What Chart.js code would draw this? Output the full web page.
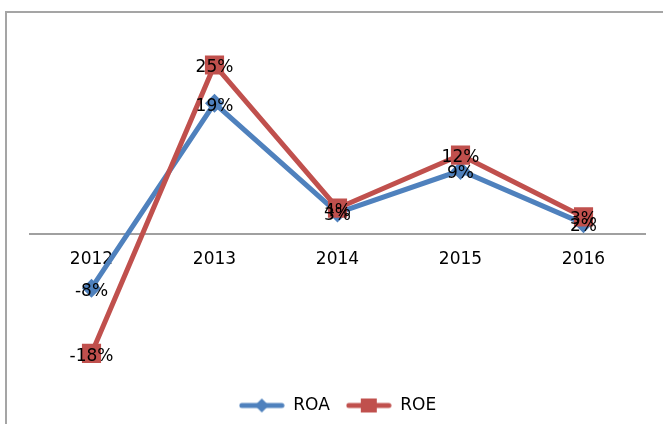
<!DOCTYPE html>
<html lang="en">
<head>
<meta charset="UTF-8" />
<title>ROA / ROE</title>
<script src="https://cdn.jsdelivr.net/npm/chart.js"></script>
<style>
  html, body { margin: 0; padding: 0; background: #fff; }
  .frame { position: relative; width: 663px; height: 424px; overflow: hidden; }
  .border { position: absolute; left: 5px; top: 11px; width: 700px; height: 500px; border: 2px solid #a5a5a5; }
  canvas { position: absolute; left: 0; top: 0; }
</style>
</head>
<body>
<div class="frame">
  <div class="border"></div>
  <canvas id="ratioChart" width="663" height="424"></canvas>
</div>
<script>
  const years = ['2012', '2013', '2014', '2015', '2016'];
  const roa = [-8.1, 19.4, 3.1, 9.4, 1.5];
  const roe = [-17.8, 25.1, 3.8, 11.7, 2.5];

  const BLUE = '#4f81bd';
  const RED = '#c0504d';
  const FONT = '"DejaVu Sans", sans-serif';

  // legend swatch: line with the marker on it, like Excel
  function legendIcon(color, shape) {
    const c = document.createElement('canvas');
    c.width = 46; c.height = 16;
    const g = c.getContext('2d');
    g.strokeStyle = color;
    g.lineWidth = 5;
    g.lineCap = 'round';
    g.beginPath(); g.moveTo(3, 8); g.lineTo(43, 8); g.stroke();
    g.fillStyle = color;
    if (shape === 'diamond') {
      g.beginPath(); g.moveTo(23, 1); g.lineTo(30, 8); g.lineTo(23, 15); g.lineTo(16, 8); g.closePath(); g.fill();
    } else {
      g.fillRect(15, 1, 16, 14);
    }
    return c;
  }
  const icons = [legendIcon(BLUE, 'diamond'), legendIcon(RED, 'square')];

  // percentage labels centred on each point
  const pointLabels = {
    id: 'pointLabels',
    afterDatasetsDraw(chart) {
      const ctx = chart.ctx;
      ctx.save();
      ctx.font = '17px ' + FONT;
      ctx.fillStyle = '#000';
      ctx.textAlign = 'center';
      ctx.textBaseline = 'middle';
      chart.data.datasets.forEach((ds, i) => {
        chart.getDatasetMeta(i).data.forEach((pt, j) => {
          ctx.fillText(Math.round(ds.data[j]) + '%', pt.x, pt.y + 3);
        });
      });
      ctx.restore();
    }
  };

  new Chart(document.getElementById('ratioChart'), {
    type: 'line',
    data: {
      labels: years,
      datasets: [{
        label: 'ROA',
        data: roa,
        borderColor: BLUE,
        backgroundColor: BLUE,
        borderWidth: 5,
        pointStyle: 'rectRot',
        pointRadius: 6,
        tension: 0,
        order: 1
      }, {
        label: 'ROE',
        data: roe,
        borderColor: RED,
        backgroundColor: RED,
        borderWidth: 5,
        pointStyle: 'rect',
        pointRadius: 10,
        tension: 0,
        order: 0
      }]
    },
    options: {
      responsive: false,
      animation: false,
      layout: { padding: { left: 30, right: 18, top: 32, bottom: 0 } },
      scales: {
        x: {
          position: { y: 0 },
          offset: true,
          grid: { display: false, drawTicks: false },
          border: { color: '#a0a0a0', width: 2 },
          ticks: { color: '#000', font: { family: FONT, size: 17 }, padding: 16 }
        },
        y: { display: false, min: -21.9, max: 30 }
      },
      plugins: {
        tooltip: { enabled: false },
        legend: {
          position: 'bottom',
          labels: {
            usePointStyle: true,
            pointStyleWidth: 46,
            color: '#000',
            font: { family: FONT, size: 17 },
            padding: 16,
            sort: (a, b) => a.datasetIndex - b.datasetIndex,
            generateLabels(chart) {
              const items = Chart.defaults.plugins.legend.labels.generateLabels(chart);
              items.forEach(it => { it.pointStyle = icons[it.datasetIndex]; });
              return items;
            }
          }
        }
      }
    },
    plugins: [pointLabels]
  });
</script>
</body>
</html>
